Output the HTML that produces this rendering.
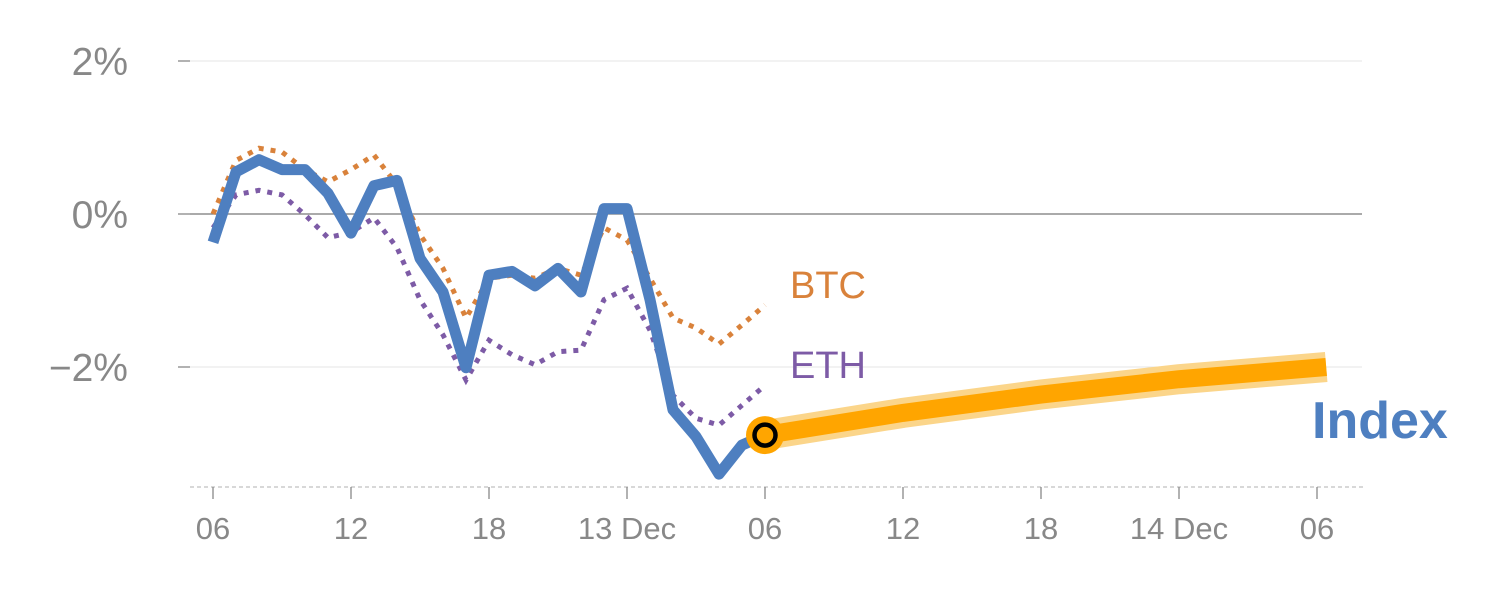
<!DOCTYPE html>
<html><head><meta charset="utf-8"><style>
html,body{margin:0;padding:0;background:#fff;}
svg{display:block;font-family:"Liberation Sans",sans-serif;}
</style></head><body>
<svg width="1500" height="600">
<g id="grid"></g>
<g id="series"></g>
<g id="labels"></g>
</svg>
<script>
const yTicks=[2,0,-2];
const yTickLabels=["2%","0%","\u22122%"];
const xTickHours=[0,6,12,18,24,30,36,42,48];
const xTickLabels=["06","12","18","13 Dec","06","12","18","14 Dec","06"];
const indexVals=[-0.37,0.55,0.71,0.58,0.58,0.27,-0.25,0.37,0.44,-0.58,-1.02,-2.01,-0.80,-0.75,-0.94,-0.71,-1.02,0.07,0.07,-1.12,-2.56,-2.91,-3.40,-3.02,-2.89];
const btcVals=[0.0,0.7,0.86,0.81,0.58,0.42,0.58,0.77,0.38,-0.27,-0.71,-1.36,-0.84,-0.8,-0.84,-0.71,-0.8,-0.18,-0.34,-0.84,-1.36,-1.49,-1.7,-1.45,-1.19];
const ethVals=[-0.18,0.25,0.31,0.25,-0.01,-0.31,-0.24,-0.05,-0.44,-1.12,-1.58,-2.17,-1.65,-1.84,-1.97,-1.8,-1.78,-1.12,-0.97,-1.52,-2.37,-2.67,-2.76,-2.5,-2.24];
const fcHours=[24,30,36,42,48.4];
const fcVals=[-2.89,-2.6,-2.36,-2.16,-2.0];

const NS="http://www.w3.org/2000/svg";
const X=h=>213+h*23;
const Y=v=>214-v*76.5;
function mk(tag,attrs,parent){const e=document.createElementNS(NS,tag);for(const k in attrs)e.setAttribute(k,attrs[k]);parent.appendChild(e);return e;}
const grid=document.getElementById('grid'),series=document.getElementById('series'),labels=document.getElementById('labels');

yTicks.forEach((v,i)=>{
  const l=mk('line',{x1:190,x2:1362,y1:Y(v),y2:Y(v),stroke:v===0?'#777':'#e6e6e6','stroke-width':v===0?1.3:1},grid);
  
  
  const tk=mk('line',{x1:178,x2:190,y1:Y(v),y2:Y(v),stroke:'#888','stroke-width':1.3},grid);
  
  
  const t=mk('text',{x:128,y:Y(v)+14,'text-anchor':'end','font-size':39,fill:'#888'},labels);
  t.textContent=yTickLabels[i];
  
  
});
const base=mk('line',{x1:190,x2:1365,y1:487,y2:487,stroke:'#ccc','stroke-width':1.5,'stroke-dasharray':'4 3'},grid);


xTickHours.forEach((h,i)=>{
  const tk=mk('line',{x1:X(h),x2:X(h),y1:487,y2:499,stroke:'#888','stroke-width':1.3},grid);
  
  
  const t=mk('text',{x:X(h),y:539,'text-anchor':'middle','font-size':31,fill:'#888'},labels);
  t.textContent=xTickLabels[i];
  
  
});
function pts(vals){return vals.map((v,i)=>X(i)+','+Y(v)).join(' ');}
const btc=mk('polyline',{points:pts(btcVals),fill:'none',stroke:'#d9823b','stroke-width':5,'stroke-dasharray':'5 7'},series);


const eth=mk('polyline',{points:pts(ethVals),fill:'none',stroke:'#7d5ba6','stroke-width':5,'stroke-dasharray':'5 7'},series);


const idx=mk('polyline',{points:pts(indexVals),fill:'none',stroke:'#4e7fc0','stroke-width':11,'stroke-linejoin':'round'},series);


let d='M'+X(fcHours[0])+','+Y(fcVals[0]);
for(let i=1;i<fcHours.length;i++){const x0=X(fcHours[i-1]),y0=Y(fcVals[i-1]),x1=X(fcHours[i]),y1=Y(fcVals[i]);d+=' Q'+((x0+x1)/2)+','+((y0+y1)/2)+' '+x1+','+y1;}
const fcGlow=mk('path',{d:d,fill:'none',stroke:'#fbd58a','stroke-width':30,'stroke-linecap':'butt'},series);


const fc=mk('path',{d:d,fill:'none',stroke:'#ffa500','stroke-width':18},series);


const mark=mk('circle',{cx:X(24),cy:Y(indexVals[24]),r:19,fill:'#ffa500'},series);


const mark2=mk('circle',{cx:X(24),cy:Y(indexVals[24]),r:10.5,fill:'#ffa500',stroke:'#000','stroke-width':4.5},series);


[['BTC',790,298,'#d9823b',38,'normal','btc-label'],['ETH',790,378,'#7d5ba6',38,'normal','eth-label'],['Index',1312,438,'#4e7fc0',52,'bold','index-label']].forEach(a=>{
  const t=mk('text',{x:a[1],y:a[2],fill:a[3],'font-size':a[4],'font-weight':a[5]},labels);
  t.textContent=a[0];
  
  
});
</script>
</body></html>
